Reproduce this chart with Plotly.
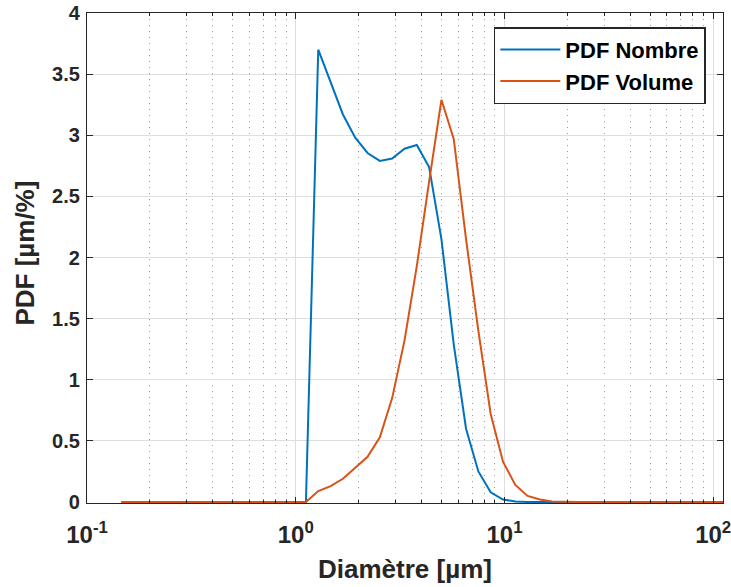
import plotly.graph_objects as go

diameter = [0.146, 0.167, 0.191, 0.219, 0.251, 0.288, 0.330, 0.378, 0.433, 0.495,
            0.568, 0.650, 0.745, 0.853, 0.977, 1.119, 1.282, 1.469, 1.683, 1.928,
            2.208, 2.529, 2.897, 3.319, 3.802, 4.355, 4.989, 5.715, 6.546, 7.499,
            8.590, 9.840, 11.27, 12.91, 14.79, 16.94, 19.41, 22.23, 25.47, 29.17,
            33.42, 38.28, 43.85, 50.23, 57.54, 65.92, 75.51, 86.50, 99.08, 113.5]

pdf_nombre = [0, 0, 0, 0, 0, 0, 0, 0, 0, 0,
              0, 0, 0, 0, 0, 0, 3.70, 3.43, 3.17, 2.98,
              2.855, 2.79, 2.81, 2.89, 2.92, 2.74, 2.15, 1.29, 0.60, 0.25,
              0.08, 0.02, 0.005, 0, 0, 0, 0, 0, 0, 0,
              0, 0, 0, 0, 0, 0, 0, 0, 0, 0]

pdf_volume = [0, 0, 0, 0, 0, 0, 0, 0, 0, 0,
              0, 0, 0, 0, 0, 0, 0.09, 0.13, 0.19, 0.28,
              0.37, 0.53, 0.85, 1.32, 1.93, 2.62, 3.29, 2.97, 2.15, 1.40,
              0.72, 0.33, 0.14, 0.05, 0.02, 0.005, 0, 0, 0, 0,
              0, 0, 0, 0, 0, 0, 0, 0, 0, 0]

x_major = [0.1, 1, 10, 100]
x_major_text = ["10<sup>-1</sup>", "10<sup>0</sup>", "10<sup>1</sup>", "10<sup>2</sup>"]
x_minor = [m * d for d in (0.1, 1, 10) for m in range(2, 10)] + [200]
y_ticks = [0, 0.5, 1, 1.5, 2, 2.5, 3, 3.5, 4]
y_text = ["0", "0.5", "1", "1.5", "2", "2.5", "3", "3.5", "4"]
x_title = "Diamètre [µm]"
y_title = "PDF [µm/%]"

FONT = "Liberation Sans"
AX = "#262626"

fig = go.Figure()
fig.add_trace(go.Scatter(x=diameter, y=pdf_nombre, mode="lines", name="PDF Nombre",
                         line=dict(color="#0072BD", width=2)))
fig.add_trace(go.Scatter(x=diameter, y=pdf_volume, mode="lines", name="PDF Volume",
                         line=dict(color="#D95319", width=2)))

fig.update_layout(
    width=731, height=587,
    margin=dict(l=87, r=8, t=13, b=84, autoexpand=False),
    paper_bgcolor="white", plot_bgcolor="white",
    font=dict(family=FONT, color="#262626"),
    showlegend=True,
    legend=dict(x=0.973, y=0.971, xanchor="right", yanchor="top",
                bgcolor="white", bordercolor=AX, borderwidth=1.5,
                font=dict(family=FONT, size=22, color="black", weight="bold"),
                itemwidth=60, tracegroupgap=0),
    annotations=[
        dict(text=x_title, xref="paper", yref="paper", x=0.5, y=0, yshift=-66,
             xanchor="center", yanchor="middle", showarrow=False,
             font=dict(family=FONT, size=26, color=AX, weight="bold")),
        dict(text=y_title, xref="paper", yref="paper", x=0, y=0.509, xshift=-62,
             xanchor="center", yanchor="middle", textangle=-90, showarrow=False,
             font=dict(family=FONT, size=26, color=AX, weight="bold")),
    ],
)

fig.update_xaxes(
    type="log", range=[-1, 2.047], automargin=False,
    tickvals=x_major, ticktext=x_major_text,
    tickfont=dict(family=FONT, size=24, color=AX, weight="bold"),
    ticks="inside", ticklen=6, tickcolor=AX, tickwidth=1,
    showline=True, linecolor=AX, linewidth=1.2, mirror="allticks",
    showgrid=True, gridcolor="#dedede", gridwidth=1,
    minor=dict(tickvals=x_minor, ticks="inside", ticklen=3, tickcolor=AX,
               showgrid=True, gridcolor="#9a9a9a", griddash="1px,5px", gridwidth=1),
    zeroline=False, ticklabelstandoff=10, ticklabeloverflow="allow",
)

fig.update_yaxes(
    range=[-0.008, 4], automargin=False,
    tickvals=y_ticks, ticktext=y_text,
    tickfont=dict(family=FONT, size=20, color=AX, weight="bold"),
    ticks="inside", ticklen=6, tickcolor=AX, tickwidth=1,
    showline=True, linecolor=AX, linewidth=1.2, mirror="allticks",
    showgrid=True, gridcolor="#dedede", gridwidth=1,
    zeroline=False, ticklabelstandoff=2, ticklabeloverflow="allow",
)

fig.write_html("out.html", config={"displayModeBar": False},
               post_script="document.body.style.margin = '0';")
